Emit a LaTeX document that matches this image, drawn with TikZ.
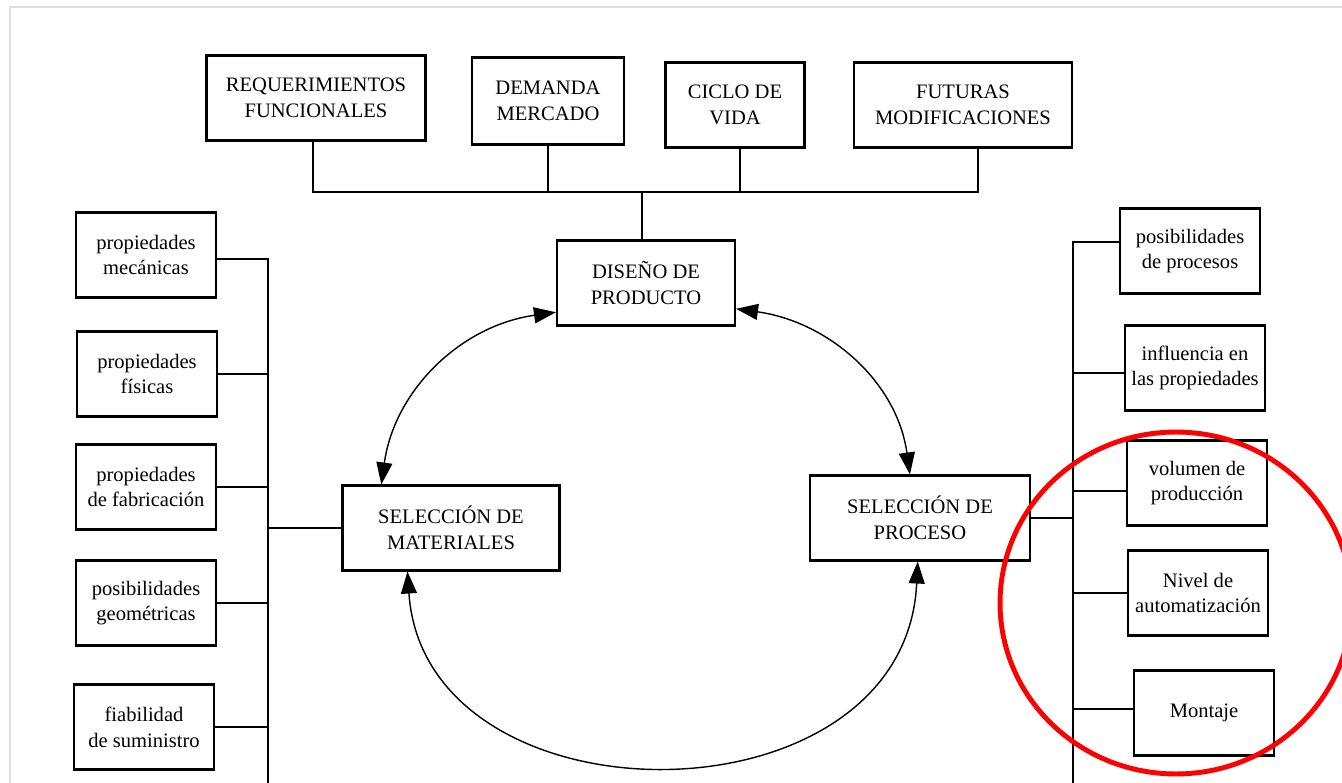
\documentclass[tikz,border=0pt]{standalone}
\usepackage{fontspec}
\setmainfont{Liberation Serif}
\usetikzlibrary{arrows.meta}
\tikzset{
  caja/.style={draw,line width=1.2pt,align=center,inner sep=0pt,
    minimum width=2.8cm,minimum height=1.7cm,
    font=\fontsize{11.7}{14.7}\selectfont},
  linea/.style={line width=0.8pt},
  flecha/.style={line width=0.8pt,
    {Triangle[length=0.44cm,width=0.32cm]}-{Triangle[length=0.44cm,width=0.32cm]}},
}

\begin{document}
\begin{tikzpicture}[x=0.02cm,y=-0.02cm]
    \useasboundingbox (0,0) rectangle (1342,783);
    \draw[gray!25,line width=1.6pt] (10,783) -- (10,7) -- (1342,7);

    % arriba
    \node[caja,minimum width=4.38cm] (req) at (316,98) {REQUERIMIENTOS\\FUNCIONALES};
    \node[caja,minimum width=3.04cm,minimum height=1.74cm] (dem) at (548,101) {DEMANDA\\MERCADO};
    \node[caja,minimum width=2.78cm] (cic) at (735,105) {CICLO DE\\VIDA};
    \node[caja,minimum width=4.36cm] (fut) at (963,105) {FUTURAS\\MODIFICACIONES};

    % centro
    \node[caja,minimum width=3.56cm] (dis) at (646,283) {DISEÑO DE\\PRODUCTO};
    \node[caja,minimum width=4.34cm] (mat) at (451,528) {SELECCIÓN DE\\MATERIALES};
    \node[caja,minimum width=4.4cm] (pro) at (920,518) {SELECCIÓN DE\\PROCESO};

    % izquierda
    \node[caja] (mec) at (146,255) {propiedades\\mecánicas};
    \node[caja] (fis) at (147,374) {propiedades\\físicas};
    \node[caja] (fab) at (146,487) {propiedades\\de fabricación};
    \node[caja] (geo) at (146,603) {posibilidades\\geométricas};
    \node[caja] (fia) at (144,727) {fiabilidad\\de suministro};

    % derecha
    \node[caja] (pos) at (1190,251) {posibilidades\\de procesos};
    \node[caja] (inf) at (1195,368) {influencia en\\las propiedades};
    \node[caja] (vol) at (1197,483) {volumen de\\producción};
    \node[caja] (niv) at (1198,593) {Nivel de\\automatización};
    \node[caja] (mon) at (1204,713) {Montaje};

    \coordinate (top) at (642,192);
    \coordinate (izq) at (268,783);
    \coordinate (der) at (1073,783);

    \draw[linea] ([xshift=-0.06cm]req.south) |- (top) -| ([xshift=0.3cm]fut.south);
    \draw[linea] (dem.south) -- (dem.south |- top);
    \draw[linea] ([xshift=0.1cm]cic.south) -- ([xshift=0.1cm]cic.south |- top);
    \draw[linea] (top) -- (top |- dis.north);

    \draw[linea] ([yshift=-0.08cm]mec.east) -| (izq);
    \draw[linea] (fis.east) -- (fis.east -| izq);
    \draw[linea] (fab.east) -- (fab.east -| izq);
    \draw[linea] (geo.east) -- (geo.east -| izq);
    \draw[linea] (fia.east) -- (fia.east -| izq);
    \draw[linea] (mat.west) -- (mat.west -| izq);

    \draw[linea] ([yshift=0.18cm]pos.west) -| (der);
    \draw[linea] ([yshift=-0.1cm]inf.west) -- ([yshift=-0.1cm]inf.west -| der);
    \draw[linea] ([yshift=-0.16cm]vol.west) -- ([yshift=-0.16cm]vol.west -| der);
    \draw[linea] (niv.west) -- (niv.west -| der);
    \draw[linea] ([yshift=0.08cm]mon.west) -- ([yshift=0.08cm]mon.west -| der);
    \draw[linea] (pro.east) -- (pro.east -| der);

    \draw[flecha] (dis.198) to[out=188,in=82] (mat.148);
    \draw[flecha] (dis.344) to[out=-8,in=98] (pro.103);
    \draw[flecha] (mat.225) .. controls (425,830) and (905,830) .. (pro.267);

    \draw[red,line width=2.8pt] (1176,603) ellipse [x radius=3.52cm,y radius=3.42cm];
\end{tikzpicture}
\end{document}
